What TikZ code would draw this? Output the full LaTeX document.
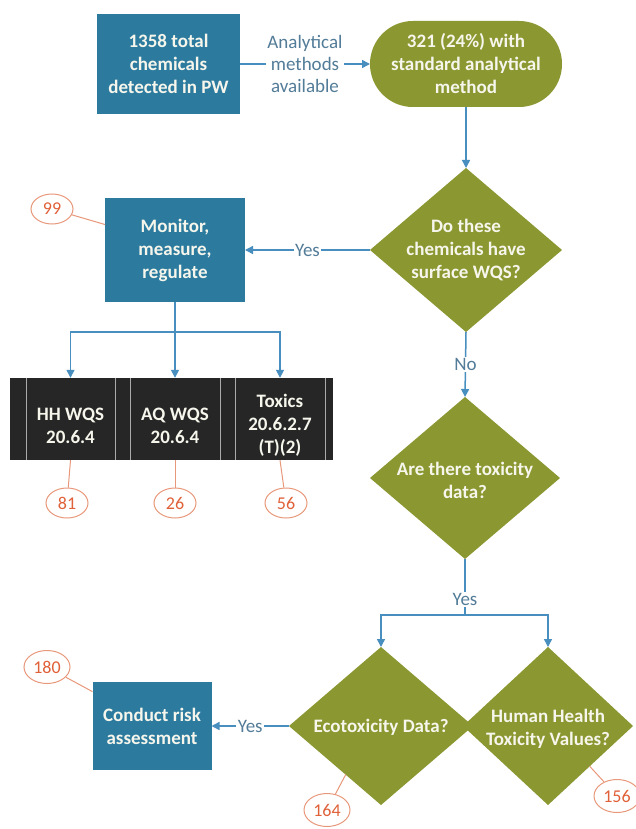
\documentclass[tikz,border=0pt]{standalone}
\usepackage{fontspec}
\setmainfont{Carlito}
\usetikzlibrary{arrows.meta,shapes.geometric}

\definecolor{boxblue}{RGB}{44,123,158}
\definecolor{olivegreen}{RGB}{139,151,48}
\definecolor{boxtext}{RGB}{246,246,236}
\definecolor{linkblue}{RGB}{72,142,190}
\definecolor{labeltext}{RGB}{82,124,152}
\definecolor{panelblack}{RGB}{38,38,38}
\definecolor{panelrule}{RGB}{170,170,170}
\definecolor{badgetext}{RGB}{224,96,56}
\definecolor{badgeline}{RGB}{232,152,122}

\begin{document}
\begin{tikzpicture}[x=1pt,y=-1pt,
  txt/.style={font=\fontsize{19}{23}\selectfont\bfseries, text=boxtext, align=center},
  bluebox/.style={txt, fill=boxblue, inner sep=0pt, outer sep=0pt},
  pillbox/.style={txt, fill=olivegreen, rounded corners=42.9pt, inner sep=0pt, outer sep=0pt},
  dia/.style={diamond, fill=olivegreen, inner sep=0pt, outer sep=0pt},
  cell/.style={txt, inner sep=0pt},
  badge/.style={ellipse, draw=badgeline, line width=1pt, text=badgetext,
    font=\fontsize{18}{20}\selectfont, inner sep=0pt, minimum width=42pt, minimum height=30pt},
  badgewide/.style={badge, minimum width=46pt, minimum height=33pt},
  lbl/.style={font=\fontsize{19}{22}\selectfont, text=labeltext, align=center,
    fill=white, inner sep=1.5pt},
  link/.style={draw=linkblue, line width=1.5pt},
  conn/.style={link, -{Triangle[length=8pt,width=8pt]}},
  bline/.style={draw=badgeline, line width=1pt},
  divider/.style={draw=panelrule, line width=0.8pt}
]
\useasboundingbox (0,0) rectangle (636,829);
\fill[white] (0,0) rectangle (636,829);

% top row
\node[bluebox, minimum width=143pt, minimum height=100pt] (b1) at (168.5,64)
  {1358 total\\chemicals\\detected in PW};
\node[pillbox, minimum width=192pt, minimum height=86pt] (pill) at (466,64)
  {321 (24\%) with\\standard analytical\\method};

% first decision
\node[dia, minimum width=192pt, minimum height=164pt] (d1) at (466,250) {};
\node[txt] (t1) at (d1) {Do these\\chemicals have\\surface WQS?};

\node[bluebox, minimum width=140pt, minimum height=104pt] (b2) at (175,250)
  {Monitor,\\measure,\\regulate};

% standards panel
\node[fill=panelblack, minimum width=323pt, minimum height=82pt, inner sep=0pt] (panel) at (171.5,419) {};
\foreach \xx in {26,115,130,220,235,325}
  \draw[divider] (\xx,378) -- (\xx,460);
\node[cell] (c1) at (70.5,426) {HH WQS\\20.6.4};
\node[cell] (c2) at (175,426) {AQ WQS\\20.6.4};
\node[cell] (c3) at (280,425) {Toxics\\20.6.2.7\\(T)(2)};

% second decision
\node[dia, minimum width=190pt, minimum height=162pt] (d2) at (465,478) {};
\node[txt] (t2) at (465,480) {Are there toxicity\\data?};

% bottom row
\node[dia, minimum width=184pt, minimum height=158pt] (d3) at (381,726) {};
\node[dia, minimum width=170pt, minimum height=158pt] (d4) at (548,726) {};
\node[txt] (t3) at (381,727) {Ecotoxicity Data?};
\node[txt] (t4) at (548,729) {Human Health\\Toxicity Values?};

\node[bluebox, minimum width=119pt, minimum height=88pt] (b3) at (152,726)
  {Conduct risk\\assessment};

% count badges
\node[badge] (n99) at (52,209) {99};
\node[badge] (n81) at (67,503) {81};
\node[badge] (n26) at (175,503) {26};
\node[badge] (n56) at (286,503) {56};
\node[badgewide] (n180) at (47,667) {180};
\node[badgewide] (n164) at (327,810) {164};
\node[badgewide] (n156) at (617,796) {156};

% connectors
\draw[conn] (b1.east) -- node[lbl] {Analytical\\methods\\available} (pill.west);
\draw[conn] (pill.south) -- (d1.north);
\draw[conn] (d1.west) -- node[lbl] {Yes} (b2.east);
\draw[conn] (d1.south) -- node[lbl] {No} (d2.north);

\coordinate (split1) at (175,332);
\draw[link] (b2.south) -- (split1);
\draw[conn] (split1) -| (c1 |- panel.north);
\draw[conn] (split1) -- (c2 |- panel.north);
\draw[conn] (split1) -| (c3 |- panel.north);

\coordinate (split2) at (465,615);
\draw[link] (d2.south) -- node[lbl, pos=0.72] {Yes} (split2);
\draw[conn] (split2) -| (d3.north);
\draw[conn] (split2) -| (d4.north);
\draw[conn] (d3.west) -- node[lbl] {Yes} (b3.east);

% badge leaders
\draw[bline] (n99) -- (b2.160);
\draw[bline] (c1 |- panel.south) -- (n81);
\draw[bline] (c2 |- panel.south) -- (n26);
\draw[bline] (c3 |- panel.south) -- (n56);
\draw[bline] (n180) -- (b3.150);
\draw[bline] (d3.234) -- (n164);
\draw[bline] (d4.-44) -- (n156);
\end{tikzpicture}
\end{document}
